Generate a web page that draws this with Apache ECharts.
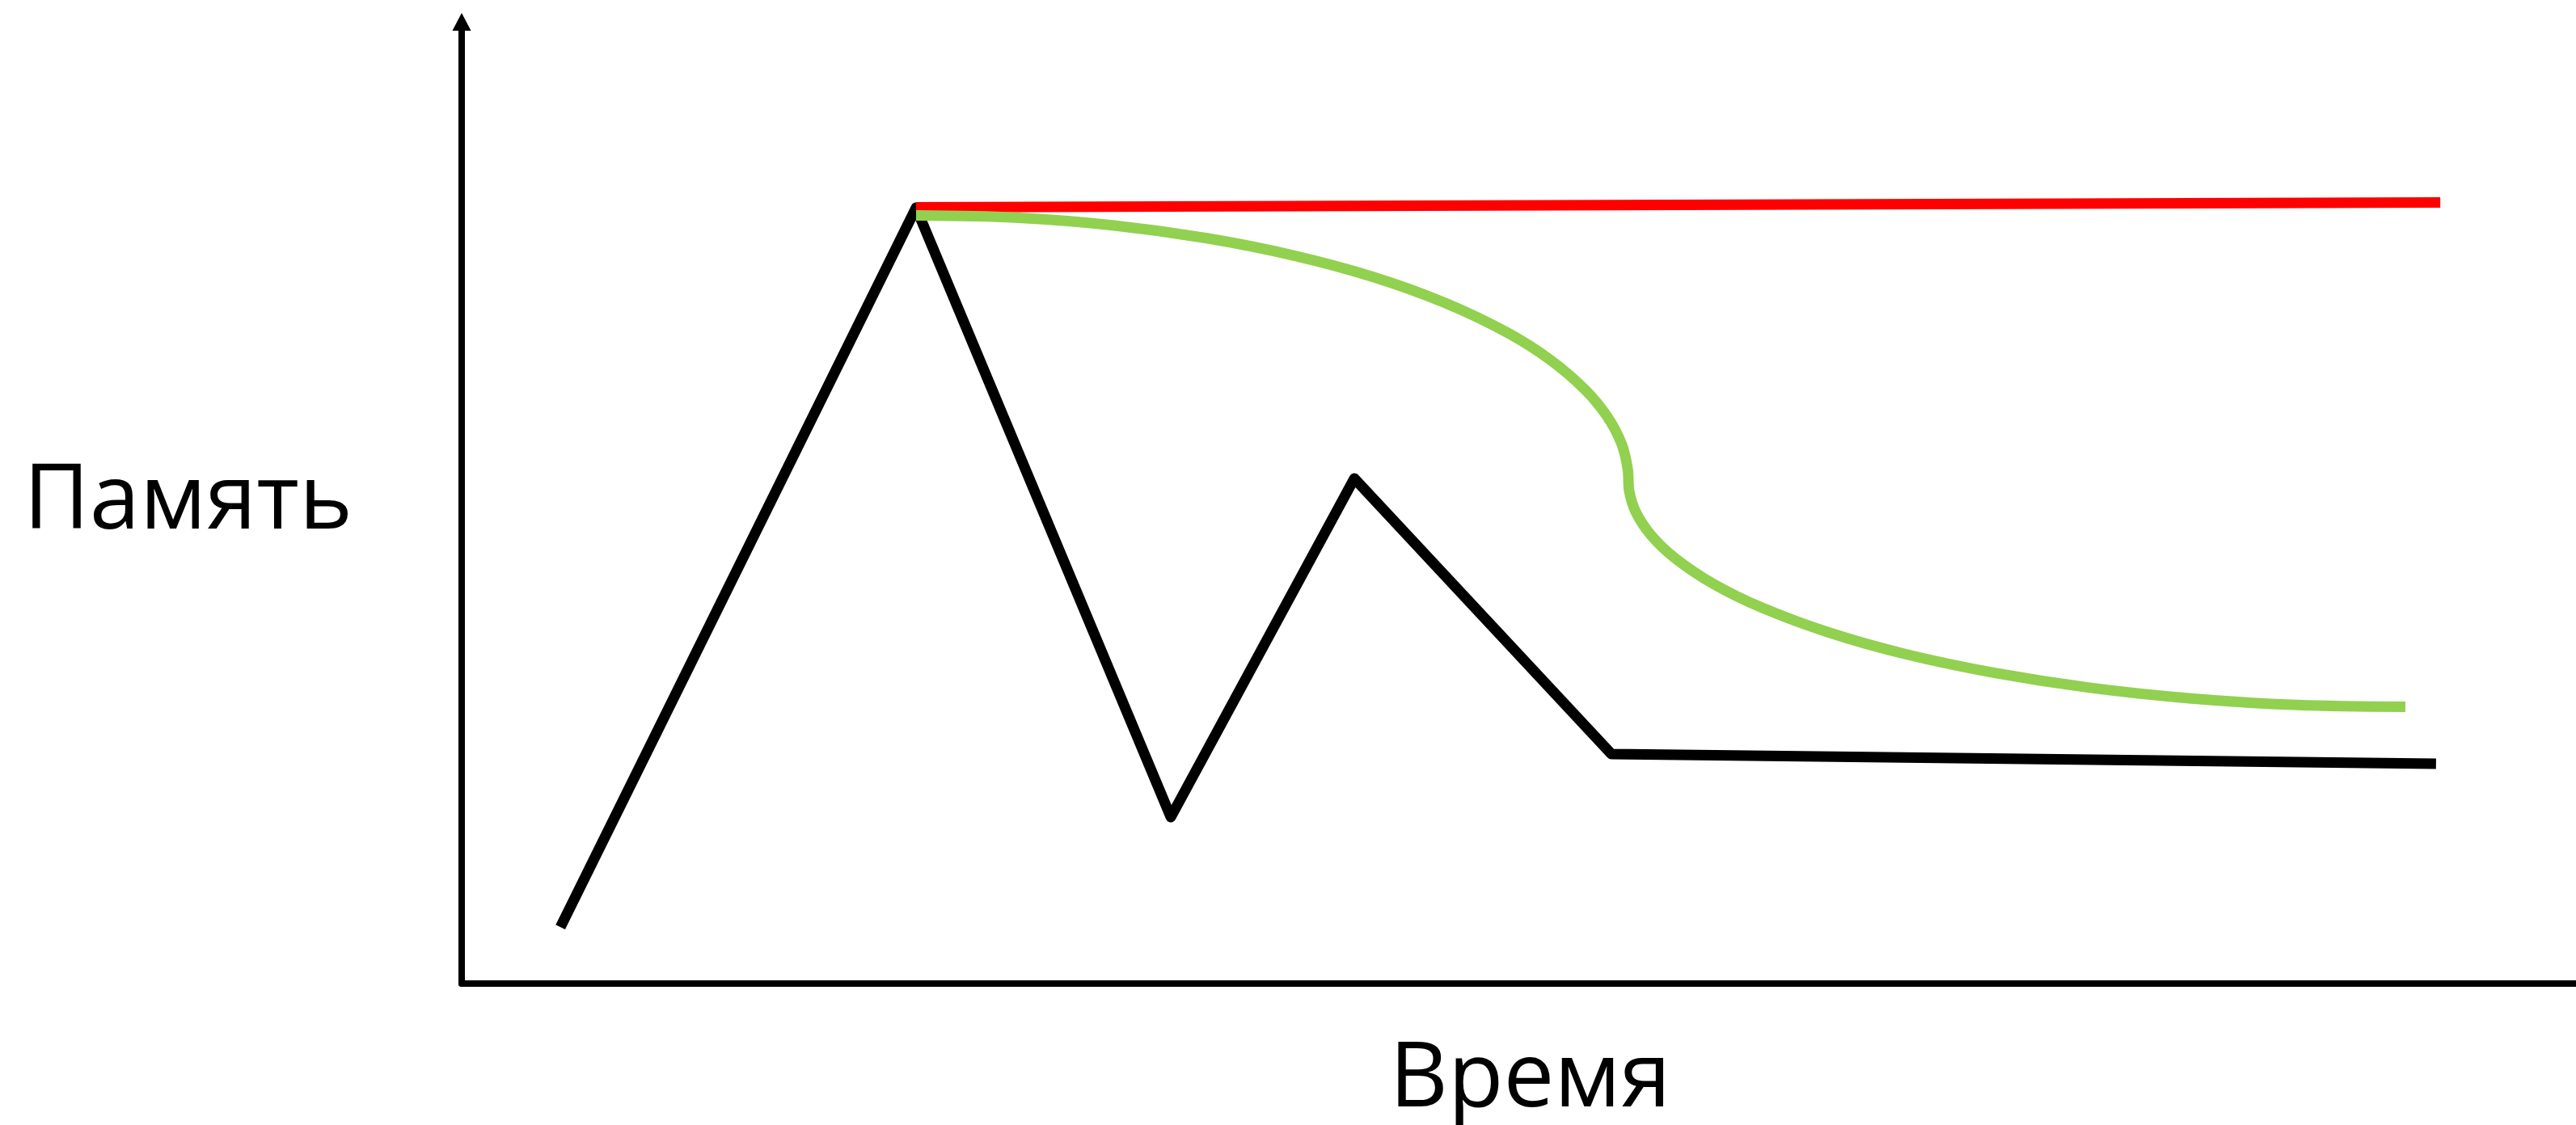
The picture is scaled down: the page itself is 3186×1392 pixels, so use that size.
<!DOCTYPE html>
<html><head><meta charset="utf-8">
<script src="https://cdn.jsdelivr.net/npm/echarts@6/dist/echarts.min.js"></script>
<style>html,body{margin:0;padding:0;background:#fff}#c{width:3186px;height:1392px}</style>
</head><body><div id="c"></div>
<script>
const xAxisName = 'Время';
const yAxisName = 'Память';
// black line: actual memory usage
const usageX = [4.67, 21.49, 33.54, 42.22, 54.38, 93.38];
const usageY = [5.88, 80.67, 17.31, 52.52, 23.87, 22.86];
// red line
const limitX = [21.49, 93.58];
const limitY = [80.71, 81.22];
// green curve
const allocX = [21.49, 26.18, 30.78, 35.19, 39.34, 43.15, 46.53, 49.42, 51.51, 53.15, 54.18, 54.86, 55.15, 55.22,
                55.54, 56.27, 57.40, 59.18, 61.47, 64.62, 68.31, 72.46, 76.99, 81.80, 86.81, 91.93];
const allocY = [79.87, 79.65, 78.85, 77.52, 75.71, 73.45, 70.76, 67.73, 64.82, 61.72, 58.96, 56.12, 53.50, 51.20,
                48.99, 46.58, 44.22, 41.59, 39.11, 36.53, 34.24, 32.32, 30.77, 29.65, 28.97, 28.78];

const zip = (xs, ys) => xs.map((x, i) => [x, ys[i]]);
const font = '"Open Sans", "Noto Sans", sans-serif';

const chart = echarts.init(document.getElementById('c'), null, {renderer: 'canvas'});
chart.setOption({
  animation: false,
  backgroundColor: '#ffffff',
  grid: {left: 571, right: 0, top: 27, bottom: 175, containLabel: false, outerBoundsMode: 'none'},
  xAxis: {
    type: 'value', min: 0, max: 100,
    name: xAxisName, nameLocation: 'middle', nameGap: 64,
    nameTextStyle: {fontFamily: font, fontSize: 112, color: '#000', padding: [0, 0, 0, 28]},
    axisLine: {show: true, onZero: false, lineStyle: {color: '#000', width: 8}},
    axisTick: {show: false}, axisLabel: {show: false}, splitLine: {show: false}
  },
  yAxis: {
    type: 'value', min: 0, max: 100,
    name: yAxisName, nameLocation: 'middle', nameGap: 135, nameRotate: 0,
    nameTextStyle: {fontFamily: font, fontSize: 112, color: '#000', padding: [11, 0, 0, 0]},
    axisLine: {show: true, onZero: false, symbol: ['none', 'triangle'], symbolSize: [23, 22],
      lineStyle: {color: '#000', width: 8}},
    axisTick: {show: false}, axisLabel: {show: false}, splitLine: {show: false}
  },
  series: [
    {type: 'line', data: zip(usageX, usageY), showSymbol: false, z: 2,
     lineStyle: {color: '#000000', width: 13, cap: 'butt', join: 'round'}},
    {type: 'line', data: zip(limitX, limitY), showSymbol: false, z: 3,
     lineStyle: {color: '#ff0000', width: 13, cap: 'butt', join: 'round'}},
    {type: 'line', data: zip(allocX, allocY), showSymbol: false, z: 4, smooth: 0.33,
     lineStyle: {color: '#92d050', width: 13, cap: 'butt', join: 'round'}}
  ]
});
</script>
</body></html>
